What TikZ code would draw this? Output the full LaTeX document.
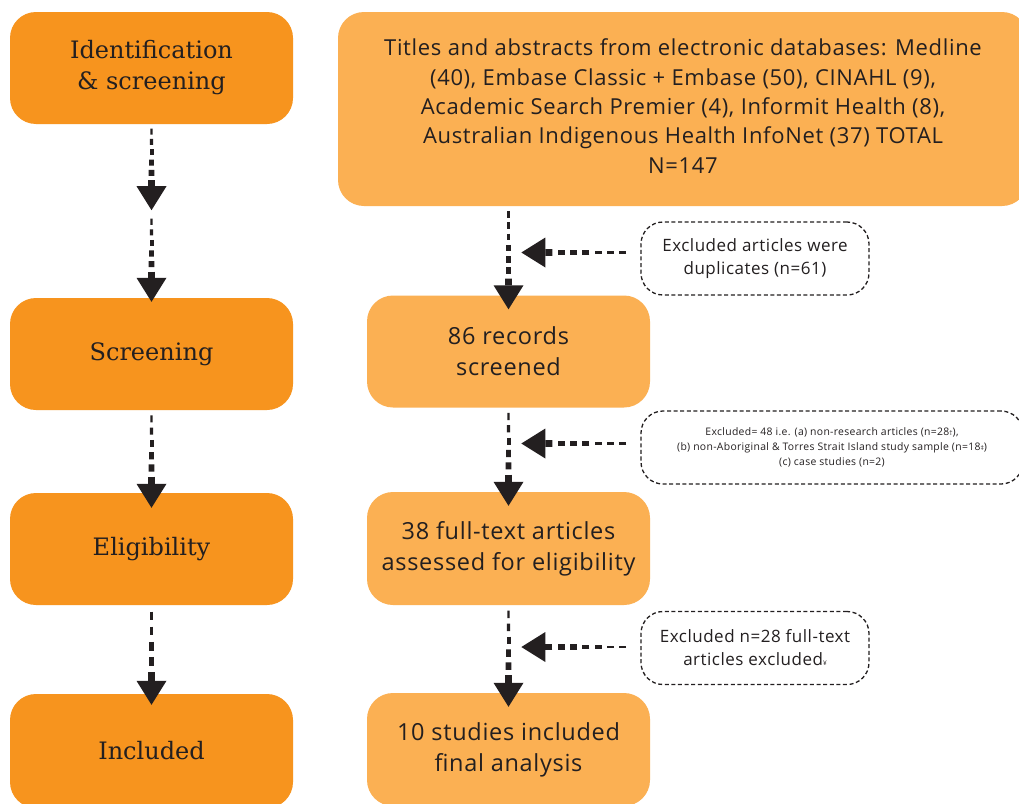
\documentclass[tikz,border=0pt]{standalone}
\usepackage{fontspec}
\setmainfont{Open Sans}[LetterSpace=3]
\newfontfamily\slabfont{DejaVu Serif}
\usetikzlibrary{calc}

\definecolor{stagefill}{HTML}{F7941E}
\definecolor{stepfill}{HTML}{FBB053}
\definecolor{ink}{HTML}{231F20}

% small reference marks set at the baseline
\newcommand{\tinymark}[1]{{\fontsize{6.5}{6.5}\selectfont #1}}

% tapered dashed arrow: from #1 to the tip #2, made of #3 dashes
\newcommand{\flowarrow}[3]{%
  \coordinate (fa-base) at ($(#2)!24pt!(#1)$);
  \foreach \k in {1,...,#3}{%
    \pgfmathsetmacro{\fawidth}{1.3+5.4*\k/#3}%
    \draw[ink, line width=\fawidth pt]
      ($(#1)!{(\k-0.58)/#3}!(fa-base)$) -- ($(#1)!{\k/#3}!(fa-base)$);
  }
  \fill[ink] ($(fa-base)!15pt!90:(#2)$) -- (#2) -- ($(fa-base)!15pt!-90:(#2)$) -- cycle;
}

\tikzset{
  stagebox/.style={fill=stagefill, rounded corners=26pt, minimum width=283pt,
    minimum height=112pt, text=ink, align=center, inner sep=0pt,
    font=\slabfont\fontsize{24}{31}\selectfont},
  flowbox/.style={fill=stepfill, rounded corners=26pt, minimum width=283pt,
    minimum height=112pt, text=ink, align=center, inner sep=0pt,
    font=\fontsize{23.5}{31}\selectfont},
  notebox/.style={draw=ink, dash pattern=on 4pt off 2.6pt, line width=1.3pt,
    rounded corners=22pt, minimum height=73pt, align=center, text=ink,
    inner sep=0pt},
}

\begin{document}
\begin{tikzpicture}[x=1pt, y=-1pt]
  \useasboundingbox (0,0) rectangle (1019,803);
  \fill[white] (0,0) rectangle (1019,803);
  \clip (0,0) rectangle (1019,803);

  % stage column
  \node[stagebox] (id)  at (151.5,68)  {Identification\\\& screening};
  \node[stagebox] (scr) at (151.5,354) {Screening};
  \node[stagebox] (eli) at (151.5,549) {Eligibility};
  \node[stagebox, minimum height=114pt] (inc) at (151.5,751) {Included};

  % record flow
  \node[flowbox, minimum width=690pt, minimum height=194pt,
        font=\fontsize{22}{29.3}\selectfont] (src) at (683,109)
    {Titles and abstracts from electronic databases: Medline\\
     (40), Embase Classic + Embase (50), CINAHL (9),\\
     Academic Search Premier (4), Informit Health (8),\\
     Australian Indigenous Health InfoNet (37) TOTAL\\
     N=147\rule[-6pt]{0pt}{1pt}};
  \node[flowbox] (rec) at (508.5,351.5) {86 records\\screened};
  \node[flowbox, minimum height=113pt] (full) at (508.5,548.5)
    {38 full-text articles\\assessed for eligibility};
  \node[flowbox, minimum height=113pt] (fin) at (508.5,749.5)
    {10 studies included\\final analysis};

  % exclusion notes
  \node[notebox, minimum width=228pt, font=\fontsize{17}{23}\selectfont]
    (d1) at (755,258.5) {Excluded articles were\\duplicates (n=61)};
  \node[notebox, minimum width=382pt, font=\fontsize{10.4}{14.8}\selectfont]
    (d2) at (832,447.5)
    {Excluded= 48 i.e. (a) non-research articles (n=28\tinymark{†}),\\
     (b) non-Aboriginal \& Torres Strait Island study sample (n=18\tinymark{‡})\\
     (c) case studies (n=2)};
  \node[notebox, minimum width=228pt, font=\fontsize{17}{23}\selectfont]
    (d3) at (755,648) {Excluded n=28 full-text\\articles excluded\tinymark{¥}};

  % stage arrows
  \coordinate (m1) at ($(id.south)+(0,86)$);
  \coordinate (m1s) at ($(m1)+(0,4)$);
  \flowarrow{id.south}{m1}{6}
  \flowarrow{m1s}{$(scr.north)+(0,4)$}{6}
  \flowarrow{scr.south}{$(eli.north)+(0,15)$}{6}
  \flowarrow{eli.south}{$(inc.north)+(0,11)$}{5}

  % record flow arrows
  \coordinate (s1) at (src.south -| rec.north);
  \flowarrow{s1}{$(rec.north)+(0,14)$}{7}
  \flowarrow{rec.south}{$(full.north)+(0,14)$}{6}
  \flowarrow{full.south}{$(fin.north)+(0,14)$}{6}

  % note arrows
  \coordinate (n1) at ($(d1.west)+(-9,-6)$);
  \coordinate (n2) at ($(d2.west)+(-9,-4)$);
  \coordinate (n3) at ($(d3.west)+(-9,-1)$);
  \flowarrow{n1}{$(d1.west)+(-119,-6)$}{7}
  \flowarrow{n2}{$(d2.west)+(-119,-4)$}{7}
  \flowarrow{n3}{$(d3.west)+(-119,-1)$}{7}
\end{tikzpicture}
\end{document}
